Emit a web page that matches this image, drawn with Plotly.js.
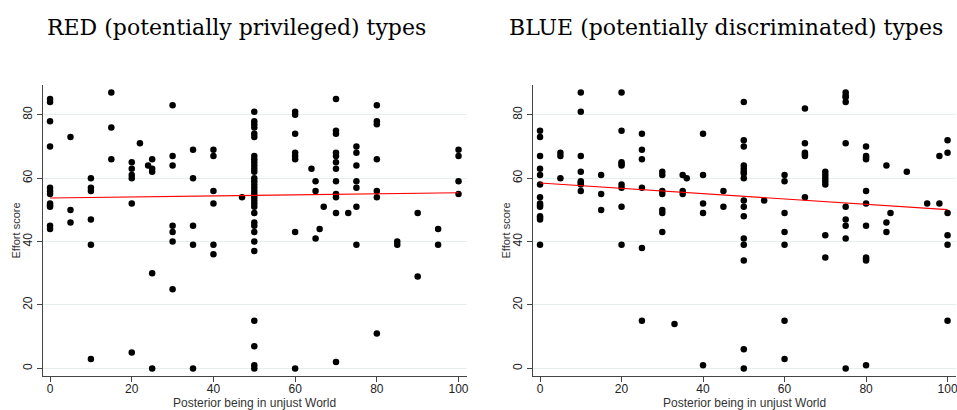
<!DOCTYPE html>
<html>
<head>
<meta charset="utf-8">
<script src="https://cdn.plot.ly/plotly-3.0.1.min.js"></script>
<style>html,body{margin:0;padding:0;background:#fff;}#chart{width:957px;height:410px;}</style>
</head>
<body>
<div id="chart"></div>
<script>
// RED (potentially privileged) types: posterior (x) and effort score (y)
var redPosterior = [
  0,0,0,0,0,0,0,0,0,0,0,0,
  5,5,5,
  10,10,10,10,10,10,
  15,15,15,
  20,20,20,20,20,20,
  22,24,
  25,25,25,25,25,
  30,30,30,30,30,30,30,
  35,35,35,35,35,
  40,40,40,40,40,40,
  47,
  50,50,50,50,50,50,50,50,50,50,50,50,50,50,50,50,50,50,50,50,50,50,50,50,50,50,50,50,50,50,50,50,
  60,60,60,60,60,60,60,60,
  64,65,65,65,66,67,
  70,70,70,70,70,70,70,70,70,70,70,70,
  73,
  75,75,75,75,75,75,75,
  80,80,80,80,80,80,80,
  85,85,
  90,90,
  95,95,
  100,100,100,100
];
var redEffort = [
  85,84,78,70,57,56,55,52,51.5,51,45,44,
  73,50,46,
  60,57,56,47,39,3,
  87,76,66,
  65,63,61,60,52,5,
  71,64,
  66,63,62,30,0,
  83,67,64,45,43,40,25,
  69,60,45,39,0,
  69,67,56,52,39,36,
  54,
  81,78,77,76,74,73,67,66,65,64,63,62,60,59,58,57,56,55,54,53,52,51,49,46,45,43,40,37,15,7,1,0,
  81,80,74,68,67,66,43,0,
  63,59,56,41,44,51,
  85,75,74,68,67,65,63,59,55,54,49,2,
  49,
  70,68,64,59,57,51,39,
  83,78,77,66,56,54,11,
  40,39,
  49,29,
  44,39,
  69,67,59,55
];
// BLUE (potentially discriminated) types
var bluePosterior = [
  0,0,0,0,0,0,0,0,0,0,0,0,0,0,
  5,5,5,
  10,10,10,10,10,10,10,10,
  15,15,15,
  20,20,20,20,20,20,20,20,20,
  25,25,25,25,25,25,
  30,30,30,30,30,30,30,
  33,
  35,35,35,36,
  40,40,40,40,40,
  45,45,
  50,50,50,50,50,50,50,50,50,50,50,50,50,50,50,50,
  55,
  60,60,60,60,60,60,60,
  65,65,65,65,65,65,
  70,70,70,70,70,70,70,
  75,75,75,75,75,75,75,75,75,75,
  80,80,80,80,80,80,80,80,80,80,80,
  85,85,85,86,
  90,95,98,98,
  100,100,100,100,100,100
];
var blueEffort = [
  75,73,67,63,61,58,54,52,51.5,51,48,47.5,47,39,
  68,67,60,
  87,81,67,62,59,58.5,58,56,
  61,55,50,
  87,75,65,64.5,64,58,57,51,39,
  74,69,66,57,38,15,
  62,61,56,55,50,49,43,
  14,
  61,56,55,60,
  74,61,52,49,1,
  56,51,
  84,72,70,64,63,62,61.5,60,53,51,48,41,39,34,6,0,
  53,
  61,59,49,43,39,15,3,
  82,71,68,67.5,67,54,
  62,61,60,59,58,42,35,
  87,86,85.5,84,71,51,47,45,41,0,
  70,67,66.5,66,56,52,45,35,34.5,34,1,
  64,46,43,49,
  62,52,67,52,
  72,68,49,42,39,15
];
// fitted lines
var fitX = [0, 100];
var redFit = [53.75, 55.4];
var blueFit = [58.5, 50.1];

var titles = ["RED (potentially privileged) types", "BLUE (potentially discriminated) types"];
var xTitle = "Posterior being in unjust World";
var yTitle = "Effort score";
var tickVals = [0, 20, 40, 60, 80, 100];
var yTickVals = [0, 20, 40, 60, 80];

var W = 957, H = 410;
var markerStyle = {color: "#000", size: 6.5};
var lineStyle = {color: "#ff0000", width: 1.1};

var traces = [
  {x: redPosterior, y: redEffort, type: "scatter", mode: "markers", marker: markerStyle, xaxis: "x", yaxis: "y"},
  {x: fitX, y: redFit, type: "scatter", mode: "lines", line: lineStyle, xaxis: "x", yaxis: "y"},
  {x: bluePosterior, y: blueEffort, type: "scatter", mode: "markers", marker: markerStyle, xaxis: "x2", yaxis: "y2"},
  {x: fitX, y: blueFit, type: "scatter", mode: "lines", line: lineStyle, xaxis: "x2", yaxis: "y2"}
];

function xAxis(domain, anchor) {
  return {
    domain: domain, anchor: anchor, range: [-1.8, 102],
    tickvals: tickVals, ticks: "outside", ticklen: 5, tickwidth: 1, tickcolor: "#444",
    ticklabelstandoff: -3, ticklabeloverflow: "allow",
    showline: true, linecolor: "#444", linewidth: 1, mirror: false,
    showgrid: false, zeroline: false,
    tickfont: {family: "Liberation Sans, Arial, sans-serif", size: 12, color: "#222"}
  };
}
function yAxis(domain, anchor) {
  return {
    domain: domain, anchor: anchor, range: [-2.4, 89.4],
    tickvals: yTickVals, ticks: "outside", ticklen: 5, tickwidth: 1, tickcolor: "#444",
    tickangle: -90,
    showline: true, linecolor: "#444", linewidth: 1,
    showgrid: true, gridcolor: "#e6eff0", gridwidth: 1,
    zeroline: true, zerolinecolor: "#e6eff0", zerolinewidth: 1,
    tickfont: {family: "Liberation Sans, Arial, sans-serif", size: 12, color: "#222"}
  };
}

var yDom = [1 - 376 / H, 1 - 85 / H];
var titleFont = {family: "DejaVu Serif, serif", size: 22, color: "#000"};
var axisTitleFont = {family: "Liberation Sans, Arial, sans-serif", size: 12, color: "#333"};
var layout = {
  width: W, height: H,
  margin: {l: 0, r: 0, t: 0, b: 0},
  paper_bgcolor: "#fff", plot_bgcolor: "#fff",
  showlegend: false,
  xaxis: xAxis([42.7 / W, 466.7 / W], "y"),
  yaxis: yAxis(yDom, "x"),
  xaxis2: xAxis([532.7 / W, 955.7 / W], "y2"),
  yaxis2: yAxis(yDom, "x2"),
  annotations: [
    {text: titles[0], xref: "paper", yref: "paper", x: 236 / W, y: 1 - 27 / H, xanchor: "center", yanchor: "middle", showarrow: false, font: titleFont},
    {text: titles[1], xref: "paper", yref: "paper", x: 726 / W, y: 1 - 27 / H, xanchor: "center", yanchor: "middle", showarrow: false, font: titleFont},
    {text: xTitle, xref: "paper", yref: "paper", x: 254.7 / W, y: 1 - 403 / H, xanchor: "center", yanchor: "middle", showarrow: false, font: axisTitleFont},
    {text: xTitle, xref: "paper", yref: "paper", x: 744.2 / W, y: 1 - 403 / H, xanchor: "center", yanchor: "middle", showarrow: false, font: axisTitleFont},
    {text: yTitle, xref: "paper", yref: "paper", x: 15 / W, y: (yDom[0] + yDom[1]) / 2, xanchor: "center", yanchor: "middle", textangle: -90, showarrow: false,
     font: {family: "Liberation Sans, Arial, sans-serif", size: 11, color: "#333"}},
    {text: yTitle, xref: "paper", yref: "paper", x: 505 / W, y: (yDom[0] + yDom[1]) / 2, xanchor: "center", yanchor: "middle", textangle: -90, showarrow: false,
     font: {family: "Liberation Sans, Arial, sans-serif", size: 11, color: "#333"}}
  ]
};

Plotly.newPlot("chart", traces, layout, {staticPlot: true, displayModeBar: false});
</script>
</body>
</html>
